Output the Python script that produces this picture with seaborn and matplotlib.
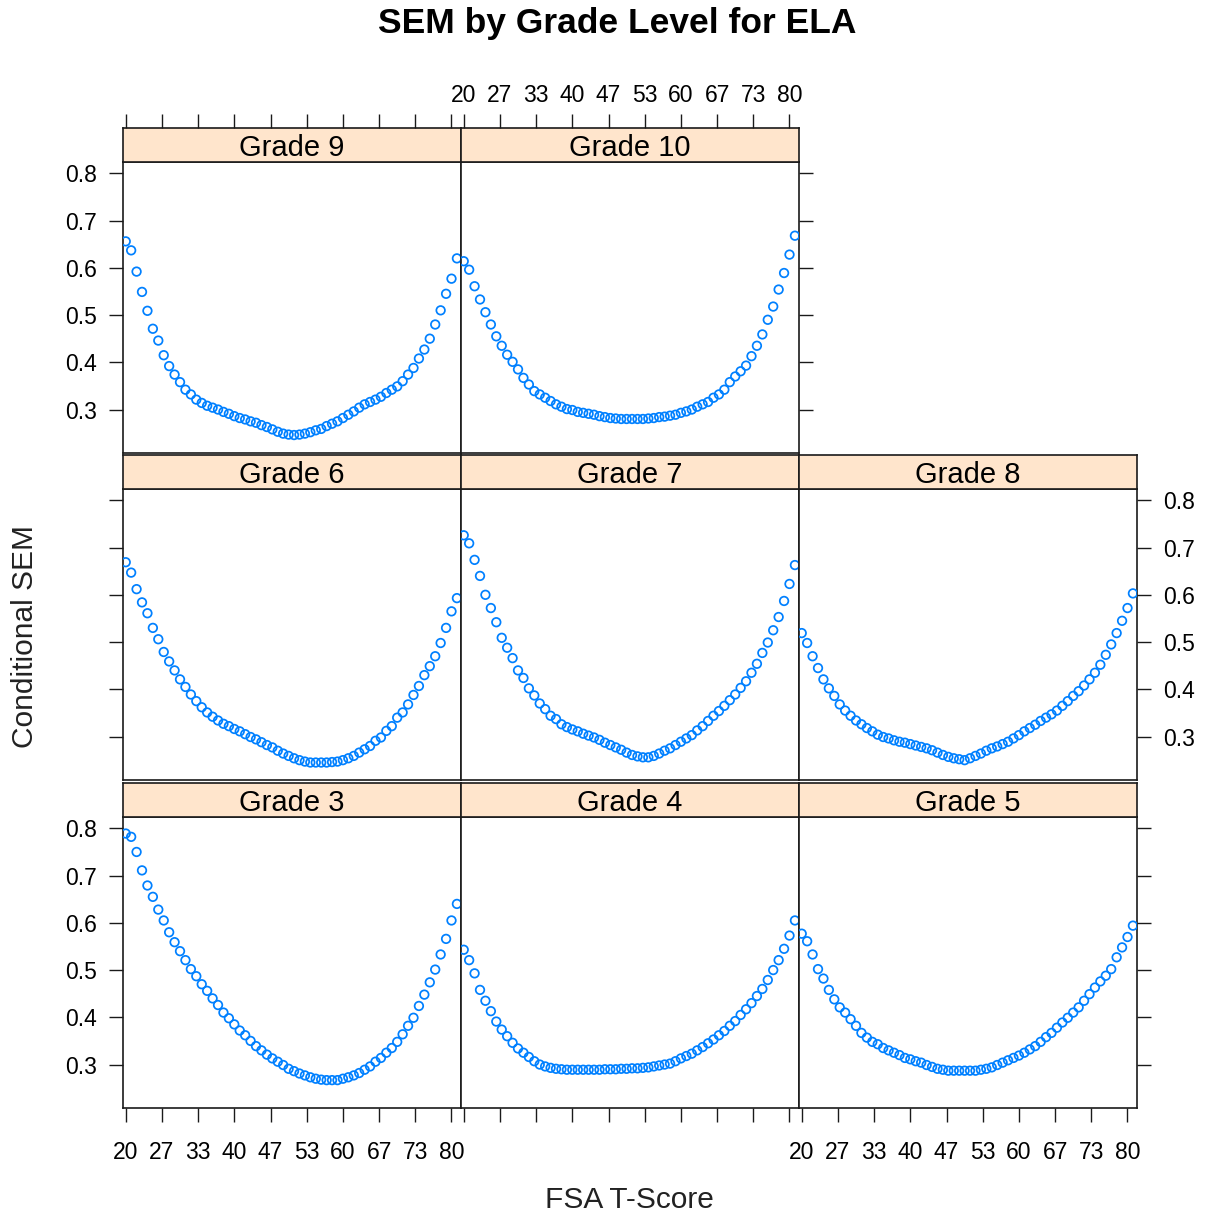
import numpy as np
import pandas as pd
import matplotlib
matplotlib.use("Agg")
import matplotlib.pyplot as plt
import seaborn as sns

# ---------------- data ----------------
T_SCORE = list(range(20, 82))

GRADE_3 = [0.789, 0.782, 0.750, 0.711, 0.679, 0.655, 0.628, 0.605, 0.580, 0.559,
           0.540, 0.521, 0.502, 0.487, 0.470, 0.456, 0.440, 0.426, 0.410, 0.398,
           0.385, 0.372, 0.362, 0.350, 0.339, 0.330, 0.321, 0.313, 0.306, 0.299,
           0.291, 0.286, 0.281, 0.277, 0.273, 0.270, 0.268, 0.267, 0.267, 0.267,
           0.270, 0.273, 0.277, 0.282, 0.289, 0.296, 0.306, 0.314, 0.325, 0.335,
           0.348, 0.364, 0.382, 0.399, 0.424, 0.448, 0.474, 0.501, 0.533, 0.566,
           0.605, 0.640]
GRADE_4 = [0.543, 0.521, 0.493, 0.458, 0.435, 0.413, 0.391, 0.374, 0.360, 0.346,
           0.334, 0.325, 0.316, 0.307, 0.300, 0.296, 0.293, 0.291, 0.290, 0.289,
           0.289, 0.289, 0.289, 0.289, 0.289, 0.289, 0.290, 0.290, 0.290, 0.291,
           0.291, 0.292, 0.292, 0.293, 0.294, 0.296, 0.298, 0.300, 0.302, 0.307,
           0.313, 0.318, 0.323, 0.330, 0.337, 0.345, 0.353, 0.362, 0.371, 0.382,
           0.392, 0.405, 0.417, 0.430, 0.445, 0.460, 0.479, 0.500, 0.521, 0.545,
           0.573, 0.605]
GRADE_5 = [0.577, 0.561, 0.533, 0.502, 0.482, 0.458, 0.438, 0.421, 0.410, 0.396,
           0.382, 0.367, 0.357, 0.348, 0.343, 0.335, 0.330, 0.325, 0.320, 0.314,
           0.311, 0.307, 0.304, 0.299, 0.295, 0.291, 0.289, 0.287, 0.287, 0.287,
           0.287, 0.287, 0.287, 0.289, 0.291, 0.294, 0.299, 0.304, 0.309, 0.314,
           0.319, 0.325, 0.332, 0.339, 0.348, 0.358, 0.367, 0.378, 0.389, 0.399,
           0.410, 0.421, 0.435, 0.449, 0.463, 0.476, 0.488, 0.502, 0.527, 0.548,
           0.570, 0.594]
GRADE_6 = [0.669, 0.647, 0.612, 0.584, 0.561, 0.530, 0.506, 0.479, 0.459, 0.440,
           0.421, 0.405, 0.389, 0.375, 0.362, 0.351, 0.342, 0.334, 0.327, 0.322,
           0.316, 0.311, 0.305, 0.299, 0.294, 0.288, 0.282, 0.277, 0.270, 0.264,
           0.259, 0.254, 0.250, 0.247, 0.245, 0.245, 0.245, 0.245, 0.246, 0.247,
           0.250, 0.254, 0.259, 0.266, 0.273, 0.280, 0.291, 0.298, 0.312, 0.322,
           0.340, 0.351, 0.368, 0.388, 0.407, 0.430, 0.449, 0.470, 0.498, 0.530,
           0.565, 0.593]
GRADE_7 = [0.726, 0.709, 0.674, 0.640, 0.600, 0.572, 0.542, 0.509, 0.488, 0.466,
           0.440, 0.424, 0.402, 0.387, 0.370, 0.358, 0.344, 0.337, 0.326, 0.320,
           0.315, 0.311, 0.306, 0.302, 0.298, 0.293, 0.287, 0.282, 0.277, 0.272,
           0.266, 0.261, 0.258, 0.256, 0.256, 0.259, 0.264, 0.270, 0.275, 0.282,
           0.289, 0.296, 0.303, 0.313, 0.322, 0.333, 0.344, 0.354, 0.365, 0.377,
           0.389, 0.403, 0.417, 0.435, 0.454, 0.477, 0.499, 0.525, 0.553, 0.587,
           0.623, 0.663]
GRADE_8 = [0.519, 0.498, 0.470, 0.445, 0.421, 0.402, 0.386, 0.368, 0.355, 0.344,
           0.334, 0.326, 0.318, 0.311, 0.304, 0.299, 0.296, 0.292, 0.289, 0.287,
           0.284, 0.281, 0.278, 0.275, 0.271, 0.266, 0.261, 0.257, 0.254, 0.252,
           0.250, 0.254, 0.259, 0.264, 0.270, 0.275, 0.279, 0.284, 0.289, 0.296,
           0.303, 0.311, 0.318, 0.325, 0.333, 0.340, 0.347, 0.355, 0.365, 0.375,
           0.386, 0.396, 0.408, 0.421, 0.435, 0.452, 0.473, 0.495, 0.519, 0.545,
           0.572, 0.603]
GRADE_9 = [0.656, 0.637, 0.592, 0.549, 0.509, 0.471, 0.446, 0.415, 0.392, 0.374,
           0.358, 0.342, 0.332, 0.321, 0.314, 0.308, 0.304, 0.300, 0.295, 0.291,
           0.286, 0.282, 0.279, 0.275, 0.272, 0.267, 0.263, 0.258, 0.253, 0.249,
           0.247, 0.246, 0.247, 0.249, 0.252, 0.256, 0.259, 0.265, 0.270, 0.275,
           0.282, 0.289, 0.296, 0.304, 0.311, 0.316, 0.321, 0.327, 0.335, 0.342,
           0.349, 0.360, 0.374, 0.388, 0.408, 0.427, 0.450, 0.480, 0.510, 0.545,
           0.577, 0.620]
GRADE_10 = [0.614, 0.596, 0.561, 0.533, 0.506, 0.480, 0.455, 0.435, 0.416, 0.401,
            0.385, 0.367, 0.353, 0.339, 0.332, 0.325, 0.318, 0.311, 0.306, 0.301,
            0.299, 0.295, 0.293, 0.291, 0.289, 0.286, 0.284, 0.282, 0.281, 0.280,
            0.280, 0.280, 0.280, 0.280, 0.281, 0.282, 0.284, 0.285, 0.287, 0.289,
            0.293, 0.296, 0.300, 0.306, 0.311, 0.316, 0.325, 0.332, 0.342, 0.358,
            0.370, 0.381, 0.393, 0.413, 0.435, 0.459, 0.490, 0.518, 0.554, 0.589,
            0.628, 0.668]

GRADES = ["Grade 3", "Grade 4", "Grade 5", "Grade 6", "Grade 7",
          "Grade 8", "Grade 9", "Grade 10"]
SERIES = [GRADE_3, GRADE_4, GRADE_5, GRADE_6, GRADE_7, GRADE_8, GRADE_9, GRADE_10]

X_TICK_LABELS = ["20", "27", "33", "40", "47", "53", "60", "67", "73", "80"]
Y_TICKS = [0.3, 0.4, 0.5, 0.6, 0.7, 0.8]
Y_TICK_LABELS = ["0.3", "0.4", "0.5", "0.6", "0.7", "0.8"]

TITLE = "SEM by Grade Level for ELA"
XLABEL = "FSA T-Score"
YLABEL = "Conditional SEM"

df = pd.DataFrame({
    "grade": np.repeat(GRADES, len(T_SCORE)),
    "tscore": np.tile(T_SCORE, len(GRADES)),
    "sem": np.concatenate(SERIES),
})

# ---------------- style ----------------
sns.set_theme(style="white")
plt.rcParams["font.family"] = ["Liberation Sans", "DejaVu Sans"]
plt.rcParams["text.color"] = "black"

W, H = 1205, 1215
fig = plt.figure(figsize=(W / 100, H / 100), dpi=100)
fig.patch.set_facecolor("white")


def rect(x0, y0, w, h):
    return [x0 / W, 1 - (y0 + h) / H, w / W, h / H]


COL_LEFT = [123, 461, 799]
COL_W = 338
ROW_TOP = [162, 489, 817]
ROW_H = 291
STRIP_H = 34

# (row, col) placement (lattice order: bottom-left first)
POS = {"Grade 3": (2, 0), "Grade 4": (2, 1), "Grade 5": (2, 2),
       "Grade 6": (1, 0), "Grade 7": (1, 1), "Grade 8": (1, 2),
       "Grade 9": (0, 0), "Grade 10": (0, 1)}

XLIM = (19.5, 81.75)
YLIM = (0.208, 0.824)
xtick_pos = np.linspace(20, 80, 10)
POINT_COLOR = "#0080ff"
STRIP_COLOR = "#ffe5cc"
LINE_COLOR = "#1a1a1a"
LW = 1.2
TICK_LEN = 10
TICK_FS = 16.5

for g in GRADES:
    r, c = POS[g]
    ax = fig.add_axes(rect(COL_LEFT[c], ROW_TOP[r], COL_W, ROW_H))
    sub = df[df["grade"] == g]
    sns.scatterplot(data=sub, x="tscore", y="sem", ax=ax, marker="o", s=38,
                    color=POINT_COLOR, facecolor="none", edgecolor=POINT_COLOR,
                    linewidth=1.25, legend=False, zorder=3, clip_on=True)
    ax.set_xlim(*XLIM)
    ax.set_ylim(*YLIM)
    ax.set_xlabel("")
    ax.set_ylabel("")
    ax.set_facecolor("white")
    for sp in ax.spines.values():
        sp.set_visible(True)
        sp.set_color(LINE_COLOR)
        sp.set_linewidth(LW)
    ax.set_xticks(xtick_pos)
    ax.set_xticklabels(X_TICK_LABELS)
    ax.set_yticks(Y_TICKS)
    ax.set_yticklabels(Y_TICK_LABELS)

    left = c == 0
    labelleft = c == 0 and r in (0, 2)
    right = (r == 1 and c == 2) or (r == 2 and c == 2) or (r == 0 and c == 1)
    labelright = r == 1 and c == 2
    bottom = r == 2
    labelbottom = r == 2 and c in (0, 2)
    ax.tick_params(axis="y", which="both", left=left, labelleft=labelleft,
                   right=right, labelright=labelright, direction="out",
                   length=TICK_LEN, width=1.0, pad=9, labelsize=TICK_FS,
                   colors=LINE_COLOR, labelcolor="black")
    ax.tick_params(axis="x", which="both", bottom=bottom, labelbottom=labelbottom,
                   top=False, labeltop=False, direction="out",
                   length=TICK_LEN, width=1.0, pad=14, labelsize=TICK_FS,
                   colors=LINE_COLOR, labelcolor="black")

    # strip
    sax = fig.add_axes(rect(COL_LEFT[c], ROW_TOP[r] - STRIP_H, COL_W, STRIP_H))
    sax.set_facecolor(STRIP_COLOR)
    sax.set_xlim(*XLIM)
    sax.set_ylim(0, 1)
    sax.set_yticks([])
    for sp in sax.spines.values():
        sp.set_visible(True)
        sp.set_color(LINE_COLOR)
        sp.set_linewidth(LW)
    sax.text(0.5, 0.42, g, transform=sax.transAxes, ha="center", va="center",
             fontsize=21, color="black")
    sax.set_xticks(xtick_pos)
    if r == 0:
        sax.set_xticklabels(X_TICK_LABELS)
        sax.tick_params(axis="x", bottom=False, labelbottom=False, top=True,
                        labeltop=(c == 1), direction="out", length=TICK_LEN,
                        width=1.0, pad=5, labelsize=TICK_FS, colors=LINE_COLOR,
                        labelcolor="black")
    else:
        sax.tick_params(axis="x", bottom=False, labelbottom=False, top=False,
                        labeltop=False)

fig.text(617 / W, 1 - 23 / H, TITLE, ha="center", va="center",
         fontsize=25.5, fontweight="bold", color="black")
fig.text(629 / W, 1 - 1200 / H, XLABEL, ha="center", va="center",
         fontsize=21.5, color="#222222")
fig.text(25 / W, 1 - 637 / H, YLABEL, ha="center", va="center", fontsize=21.5,
         rotation=90, color="#222222")

fig.savefig("out.png", dpi=100, facecolor="white")
